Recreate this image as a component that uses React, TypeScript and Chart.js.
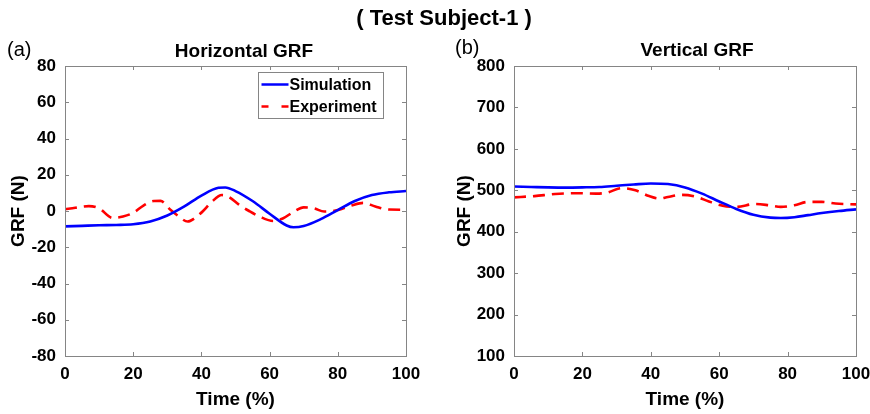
import React, { useEffect, useRef } from "react";
import { Chart, registerables } from "chart.js";

Chart.register(...registerables);

const FONT = "'Liberation Sans', Arial, Helvetica, sans-serif";

// Horizontal GRF — Simulation
const hSimTime = [0, 5, 10, 15, 20, 25, 30, 35, 40, 45, 47, 50, 55, 60, 65, 67, 70, 75, 80, 85, 90, 95, 100];
const hSimValue = [-8.5, -8.2, -7.9, -7.7, -7.3, -5.8, -2.5, 2.5, 8.5, 12.8, 13, 11, 5.5, -1.5, -8, -9, -8.3, -4.5, 0.5, 5.5, 8.8, 10.3, 11];

// Horizontal GRF — Experiment
const hExpTime = [0, 3, 7, 10, 14, 17, 20, 23, 26, 28, 31, 33, 36, 38, 40.5, 43, 46, 48, 51, 54, 57, 61, 64, 67, 70, 73, 76, 80, 84, 87.5, 91, 95, 100];
const hExpValue = [1, 1.8, 2.7, 1.5, -3.8, -3, -1, 3, 5.5, 5.6, 0.5, -2.5, -5.8, -4, 0, 5, 8.8, 7.8, 3.5, 0, -3, -5.5, -4, -0.5, 2, 1.5, -0.3, 0.5, 3, 4.5, 2.5, 0.8, 0.7];

// Vertical GRF — Simulation
const vSimTime = [0, 5, 10, 15, 20, 25, 30, 35, 40, 45, 50, 55, 60, 65, 70, 75, 78, 82, 86, 90, 95, 100];
const vSimValue = [509, 508, 507, 506.5, 507, 508, 511, 514, 516.5, 515, 507, 492, 473, 455, 441, 434, 433, 435, 440, 445, 450, 454];

// Vertical GRF — Experiment
const vExpTime = [0, 6, 12, 18, 24, 27, 31.5, 35.5, 39.5, 42.5, 45, 49, 53, 57, 61, 65, 70.5, 74.5, 78, 82, 86, 90, 94, 100];
const vExpValue = [483, 486, 491, 493, 492, 494, 505, 500, 486, 480, 484, 489, 485, 473, 463, 460, 467, 464, 460, 464, 472, 472, 468, 466];

const hTicks = { min: -80, max: 80, step: 20 };
const vTicks = { min: 100, max: 800, step: 100 };
const timeTicks = { min: 0, max: 100, step: 20 };

const toPoints = (xs: number[], ys: number[]) => xs.map((x, i) => ({ x, y: ys[i] }));

const framePlugin = {
  id: "matlabFrame",
  afterDraw(chart: any) {
    const { ctx, chartArea: a, scales } = chart;
    ctx.save();
    ctx.strokeStyle = "#858585";
    ctx.lineWidth = 1;
    ctx.setLineDash([]);
    ctx.strokeRect(Math.round(a.left) + 0.5, Math.round(a.top) + 0.5, Math.round(a.right - a.left), Math.round(a.bottom - a.top));
    const tl = 4;
    ctx.beginPath();
    scales.x.ticks.forEach((t: any) => {
      const px = Math.round(scales.x.getPixelForValue(t.value)) + 0.5;
      ctx.moveTo(px, a.bottom);
      ctx.lineTo(px, a.bottom - tl);
      ctx.moveTo(px, a.top);
      ctx.lineTo(px, a.top + tl);
    });
    scales.y.ticks.forEach((t: any) => {
      const py = Math.round(scales.y.getPixelForValue(t.value)) + 0.5;
      ctx.moveTo(a.left, py);
      ctx.lineTo(a.left + tl, py);
      ctx.moveTo(a.right, py);
      ctx.lineTo(a.right - tl, py);
    });
    ctx.stroke();
    ctx.restore();
  },
};

const boxLegendPlugin = {
  id: "boxLegend",
  afterDraw(chart: any, _args: any, opts: any) {
    if (!opts || !opts.show) return;
    const { ctx, chartArea: a } = chart;
    const w = 125;
    const h = 46;
    const x0 = Math.round(a.right - 23 - w) + 0.5;
    const y0 = Math.round(a.top + 6) + 0.5;
    ctx.save();
    ctx.fillStyle = "#ffffff";
    ctx.fillRect(x0, y0, w, h);
    ctx.strokeStyle = "#858585";
    ctx.lineWidth = 1;
    ctx.strokeRect(x0, y0, w, h);
    ctx.font = `bold 16px ${FONT}`;
    ctx.textBaseline = "middle";
    ctx.textAlign = "left";
    chart.data.datasets.forEach((d: any, i: number) => {
      const cy = y0 + 12 + i * 22;
      ctx.strokeStyle = d.borderColor;
      ctx.lineWidth = 2.5;
      ctx.setLineDash(d.borderDash ? [7, 13] : []);
      ctx.beginPath();
      ctx.moveTo(x0 + 3, cy);
      ctx.lineTo(x0 + 30, cy);
      ctx.stroke();
      ctx.setLineDash([]);
      ctx.fillStyle = "#000";
      ctx.fillText(d.label, x0 + 31, cy + 1);
    });
    ctx.restore();
  },
};

type PanelProps = {
  simX: number[];
  simY: number[];
  expX: number[];
  expY: number[];
  yRange: { min: number; max: number; step: number };
  yAxisWidth: number;
  rightPad: number;
  yTitlePad: number;
  legend: boolean;
};

function Panel(props: PanelProps) {
  const ref = useRef<HTMLCanvasElement>(null);
  useEffect(() => {
    if (!ref.current) return;
    const chart = new Chart(ref.current, {
      type: "line",
      data: {
        datasets: [
          {
            label: "Simulation",
            data: toPoints(props.simX, props.simY),
            borderColor: "#0000ff",
            borderWidth: 2.6,
            pointRadius: 0,
            tension: 0.4,
            cubicInterpolationMode: "monotone",
            fill: false,
          },
          {
            label: "Experiment",
            data: toPoints(props.expX, props.expY),
            borderColor: "#ff0000",
            borderWidth: 2.6,
            borderDash: [12, 7],
            pointRadius: 0,
            tension: 0.4,
            cubicInterpolationMode: "monotone",
            fill: false,
          },
        ],
      },
      options: {
        animation: false,
        responsive: true,
        maintainAspectRatio: false,
        devicePixelRatio: 1,
        layout: { padding: { top: 66, right: props.rightPad, bottom: 0, left: 0 } },
        plugins: {
          legend: { display: false },
          tooltip: { enabled: false },
          title: { display: false },
          boxLegend: { show: props.legend },
        } as any,
        scales: {
          x: {
            type: "linear",
            min: timeTicks.min,
            max: timeTicks.max,
            grid: { display: false, drawTicks: false },
            border: { display: false },
            ticks: {
              stepSize: timeTicks.step,
              color: "#000",
              padding: 8,
              maxRotation: 0,
              font: { family: FONT, size: 17, weight: "bold", lineHeight: 1.2 },
            },
            title: {
              display: true,
              text: "Time (%)",
              color: "#000",
              padding: { top: 0, bottom: 3 },
              font: { family: FONT, size: 19, weight: "bold", lineHeight: 1.2 },
            },
            afterFit: (s: any) => {
              s.height = 58;
              s.paddingLeft = 0;
              s.paddingRight = 0;
            },
          },
          y: {
            type: "linear",
            min: props.yRange.min,
            max: props.yRange.max,
            grid: { display: false, drawTicks: false },
            border: { display: false },
            ticks: {
              stepSize: props.yRange.step,
              color: "#000",
              padding: 9,
              font: { family: FONT, size: 17, weight: "bold", lineHeight: 1.2 },
            },
            title: {
              display: true,
              text: "GRF (N)",
              color: "#000",
              padding: { top: props.yTitlePad, bottom: 0 },
              font: { family: FONT, size: 19, weight: "bold", lineHeight: 1.2 },
            },
            afterFit: (s: any) => {
              s.width = props.yAxisWidth;
              s.paddingTop = 0;
              s.paddingBottom = 0;
            },
          },
        },
      } as any,
      plugins: [framePlugin, boxLegendPlugin],
    });
    return () => chart.destroy();
  }, []);
  return <canvas ref={ref} />;
}

const textBase: React.CSSProperties = {
  position: "absolute",
  fontFamily: FONT,
  color: "#000",
  whiteSpace: "nowrap",
};

export default function App() {
  return (
    <div style={{ position: "fixed", left: 0, top: 0, width: 870, height: 414, background: "#fff", overflow: "hidden" }}>
      <div style={{ position: "absolute", left: 0, top: 0, width: 435, height: 414 }}>
        <Panel
          simX={hSimTime}
          simY={hSimValue}
          expX={hExpTime}
          expY={hExpValue}
          yRange={hTicks}
          yAxisWidth={65}
          rightPad={29}
          yTitlePad={7}
          legend={true}
        />
      </div>
      <div style={{ position: "absolute", left: 435, top: 0, width: 435, height: 414 }}>
        <Panel
          simX={vSimTime}
          simY={vSimValue}
          expX={vExpTime}
          expY={vExpValue}
          yRange={vTicks}
          yAxisWidth={79}
          rightPad={14}
          yTitlePad={18}
          legend={false}
        />
      </div>
      <div style={{ ...textBase, left: 294, width: 300, top: 7, fontSize: 22, lineHeight: "22px", fontWeight: "bold", textAlign: "center" }}>
        ( Test Subject-1 )
      </div>
      <div style={{ ...textBase, left: 94, width: 300, top: 41, fontSize: 19, lineHeight: "19px", fontWeight: "bold", textAlign: "center" }}>
        Horizontal GRF
      </div>
      <div style={{ ...textBase, left: 547, width: 300, top: 40, fontSize: 19, lineHeight: "19px", fontWeight: "bold", textAlign: "center" }}>
        Vertical GRF
      </div>
      <div style={{ ...textBase, left: 7, top: 39, fontSize: 20, lineHeight: "20px" }}>(a)</div>
      <div style={{ ...textBase, left: 455, top: 37, fontSize: 20, lineHeight: "20px" }}>(b)</div>
    </div>
  );
}
